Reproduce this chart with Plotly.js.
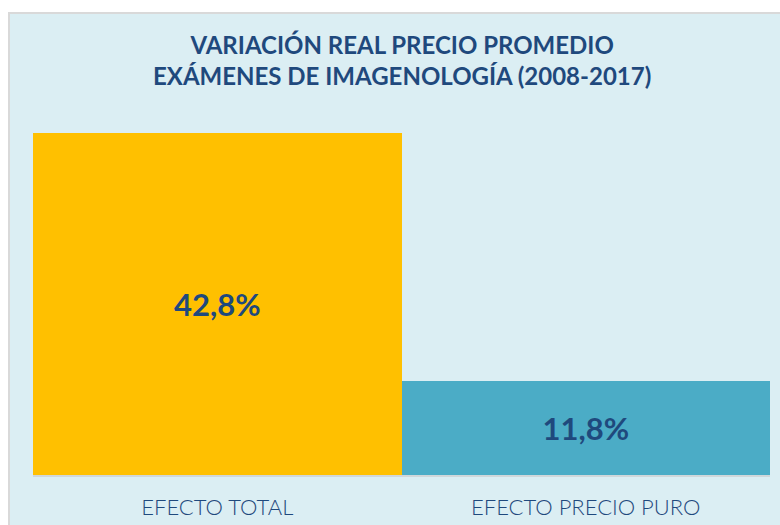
<!DOCTYPE html>
<html>
<head>
<meta charset="utf-8">
<script src="https://cdn.plot.ly/plotly-3.0.1.min.js"></script>
<style>
  html, body { margin: 0; padding: 0; background: #ffffff; width: 780px; height: 525px; overflow: hidden; }
  #frame { position: absolute; left: 8px; top: 12px; width: 772px; height: 513px;
           border-left: 2px solid #d9d9d9; border-top: 2px solid #d9d9d9; box-sizing: border-box; background: #DBEEF3; }
  #chart { position: absolute; left: 0; top: 0; width: 770px; height: 511px; }
</style>
</head>
<body>
<div id="frame"><div id="chart"></div></div>
<script>
const categories = ["EFECTO TOTAL", "EFECTO PRECIO PURO"];
const values = [42.8, 11.8];
const barColors = ["#FFC000", "#4BACC6"];
const labels = values.map(v => v.toFixed(1).replace('.', ',') + '%');
const titleText = '<b>VARIACIÓN REAL PRECIO PROMEDIO<br>EXÁMENES DE IMAGENOLOGÍA (2008-2017)</b>';

const FONT = "Lato, 'DejaVu Sans', sans-serif";
const DARK = "#1F497D";

const trace = {
  type: 'bar',
  x: categories,
  y: values,
  marker: { color: barColors, line: { width: 0 } },
  text: labels,
  textposition: 'inside',
  insidetextanchor: 'middle',
  textangle: 0,
  textfont: { family: FONT, size: 31, color: DARK, weight: 'bold' },
  hoverinfo: 'none',
  cliponaxis: false
};

const layout = {
  width: 770, height: 511,
  margin: { l: 23, r: 10, t: 61, b: 50, pad: 0 },
  paper_bgcolor: 'rgba(0,0,0,0)',
  plot_bgcolor: 'rgba(0,0,0,0)',
  bargap: 0,
  showlegend: false,
  annotations: [{
    text: titleText,
    xref: 'paper', yref: 'paper',
    x: 0.5, y: 1.0375, xanchor: 'center', yanchor: 'middle',
    showarrow: false, align: 'center',
    font: { family: FONT, size: 24, color: DARK }
  }],
  xaxis: {
    type: 'category',
    showgrid: false, zeroline: false,
    showline: true, linecolor: '#d0d7da', linewidth: 2,
    ticks: '', ticklabelstandoff: 12,
    tickfont: { family: FONT, size: 22, color: DARK, weight: 300 },
    fixedrange: true
  },
  yaxis: {
    range: [0, 50],
    visible: false,
    showgrid: false, zeroline: false,
    fixedrange: true
  }
};

Plotly.newPlot('chart', [trace], layout, { displayModeBar: false, staticPlot: true });
</script>
</body>
</html>
